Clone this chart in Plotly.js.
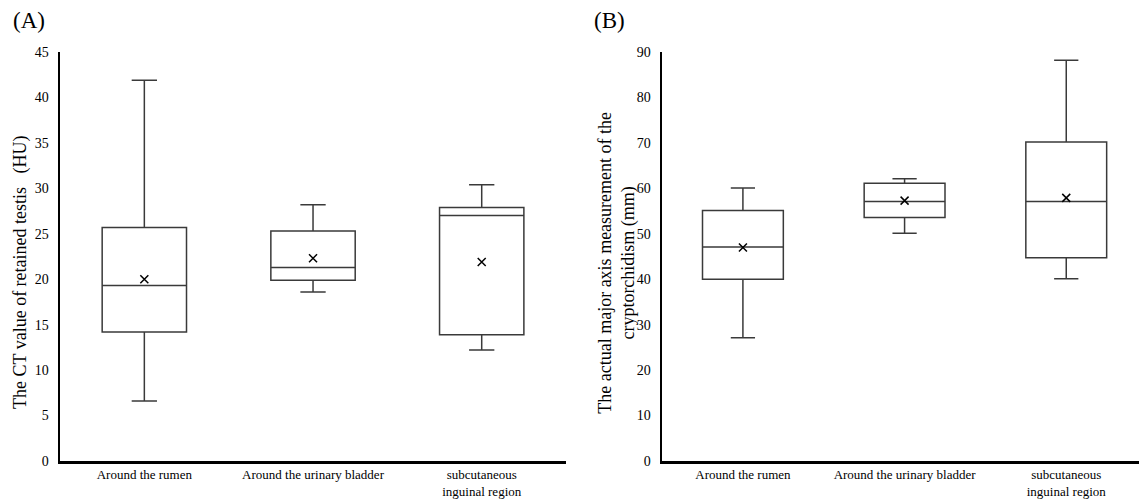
<!DOCTYPE html>
<html>
<head>
<meta charset="utf-8">
<script src="https://cdn.plot.ly/plotly-3.0.1.min.js"></script>
<style>html,body{margin:0;padding:0;background:#fff;}#chart{width:1139px;height:501px;}</style>
</head>
<body>
<div id="chart"></div>
<script>
// Categories
const categories = ["Around the rumen", "Around the urinary bladder", "subcutaneous<br>inguinal region"];

// Panel A: CT value of retained testis (HU)
const ctLower  = [6.6, 18.6, 12.2];
const ctQ1     = [14.2, 19.9, 13.9];
const ctMedian = [19.3, 21.3, 27.0];
const ctQ3     = [25.7, 25.3, 27.9];
const ctUpper  = [41.9, 28.2, 30.4];
const ctMean   = [20.0, 22.3, 21.9];

// Panel B: actual major axis measurement (mm)
const mmLower  = [27.1, 50.1, 40.1];
const mmQ1     = [40.0, 53.6, 44.7];
const mmMedian = [47.1, 57.1, 57.1];
const mmQ3     = [55.1, 61.1, 70.2];
const mmUpper  = [60.1, 62.1, 88.2];
const mmMean   = [47.0, 57.3, 57.9];

const ctTicks = [0, 5, 10, 15, 20, 25, 30, 35, 40, 45];
const mmTicks = [0, 10, 20, 30, 40, 50, 60, 70, 80, 90];

const ctTitle = 'The CT value of retained testis\u2002\u00a0(HU)';
const mmTitle = 'The actual major axis measurement of the<br>cryptorchidism (mm)';

const boxLine = {color: '#3a3a3a', width: 1.5};
function boxTrace(lo, q1, med, q3, up, xa, ya) {
  return {
    type: 'box', x: categories, q1: q1, median: med, q3: q3,
    lowerfence: lo, upperfence: up, boxpoints: false,
    line: boxLine, fillcolor: 'rgba(255,255,255,0)',
    width: 0.5, whiskerwidth: 0.3, xaxis: xa, yaxis: ya,
    hoverinfo: 'none', showlegend: false
  };
}
function meanTrace(m, xa, ya) {
  return {
    type: 'scatter', mode: 'markers', x: categories, y: m,
    marker: {symbol: 'x-thin', size: 8, color: '#000', line: {color: '#000', width: 1.5}},
    xaxis: xa, yaxis: ya, showlegend: false, hoverinfo: 'none'
  };
}

const data = [
  boxTrace(ctLower, ctQ1, ctMedian, ctQ3, ctUpper, 'x', 'y'),
  meanTrace(ctMean, 'x', 'y'),
  boxTrace(mmLower, mmQ1, mmMedian, mmQ3, mmUpper, 'x2', 'y2'),
  meanTrace(mmMean, 'x2', 'y2')
];

const fam = 'Liberation Serif, Times New Roman, serif';
const font = {family: fam, color: '#000'};
const xCommon = {
  type: 'category', showgrid: false, zeroline: false, showline: true,
  linecolor: '#000', linewidth: 2.5, ticks: '', tickfont: {size: 13, family: fam, color: '#000'},
  ticklabelstandoff: 0, fixedrange: true
};
const yCommon = {
  showgrid: false, zeroline: false, showline: true, linecolor: '#000', linewidth: 2.5,
  ticks: '', tickfont: {size: 14, family: fam, color: '#000'}, ticklabelstandoff: 6,
  fixedrange: true
};

const layout = {
  width: 1139, height: 501,
  margin: {l: 60, r: 0, t: 52, b: 40},
  paper_bgcolor: '#fff', plot_bgcolor: '#fff',
  font: font,
  xaxis: Object.assign({}, xCommon, {domain: [0, 0.469], range: [-0.5, 2.5], anchor: 'y'}),
  yaxis: Object.assign({}, yCommon, {range: [0, 45], tickvals: ctTicks, anchor: 'x'}),
  xaxis2: Object.assign({}, xCommon, {domain: [0.558, 1], range: [-0.5, 2.45], anchor: 'y2'}),
  yaxis2: Object.assign({}, yCommon, {range: [0, 90], tickvals: mmTicks, anchor: 'x2'}),
  annotations: [
    {text: '(A)', xref: 'paper', yref: 'paper', x: -0.0287, y: 1.078, xanchor: 'center', yanchor: 'middle', showarrow: false, font: {size: 23, family: fam, color: '#000'}},
    {text: '(B)', xref: 'paper', yref: 'paper', x: 0.5097, y: 1.078, xanchor: 'center', yanchor: 'middle', showarrow: false, font: {size: 23, family: fam, color: '#000'}},
    {text: ctTitle, xref: 'paper', yref: 'paper', x: -0.0371, y: 0.462, xanchor: 'center', yanchor: 'middle', textangle: -90, showarrow: false, font: {size: 18, family: fam, color: '#000'}},
    {text: mmTitle, xref: 'paper', yref: 'paper', x: 0.516, y: 0.484, xanchor: 'center', yanchor: 'middle', textangle: -90, showarrow: false, align: 'center', font: {size: 18, family: fam, color: '#000'}}
  ]
};

Plotly.newPlot('chart', data, layout, {displayModeBar: false, staticPlot: true});
</script>
</body>
</html>
